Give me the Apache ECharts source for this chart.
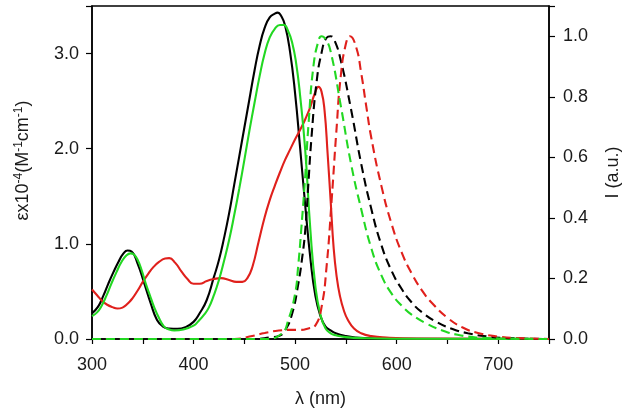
<!DOCTYPE html>
<html>
<head>
<meta charset="utf-8">
<script src="https://cdn.jsdelivr.net/npm/echarts@6/dist/echarts.min.js"></script>
<style>html,body{margin:0;padding:0;background:#fff;}#c{width:630px;height:415px;}</style>
</head>
<body>
<div id="c"></div>
<script>
// ---- Absorption (left axis, εx10^-4) ----
var blackAbsX = [300,306,311,316,321,326,331,335,339,345,351,358,364,370,376,384,392,400,406,413,420,425,430,435,440,445,450,455,460,465,470,475,480,483,486,490,495,500,505,510,515,520,525,530,535,540,550,560,580,600,750];
var blackAbsY = [0.27,0.34,0.45,0.58,0.70,0.81,0.90,0.93,0.92,0.79,0.60,0.37,0.20,0.13,0.11,0.107,0.125,0.18,0.27,0.41,0.65,0.83,1.06,1.32,1.62,1.92,2.22,2.52,2.82,3.08,3.27,3.38,3.42,3.43,3.40,3.30,3.02,2.58,2.00,1.40,0.85,0.45,0.24,0.13,0.09,0.06,0.03,0.015,0.005,0.002,0];

var greenAbsX = [300,305,309,314,319,324,329,334,338,341,345,349,353,357,361,366,371,376,381,390,400,405,410,415,420,425,430,435,440,445,450,455,460,465,470,475,480,485,489,493,497,501,505,510,515,520,525,530,535,540,550,570,600,750];
var greenAbsY = [0.24,0.28,0.34,0.45,0.58,0.70,0.81,0.88,0.90,0.89,0.83,0.72,0.58,0.46,0.34,0.22,0.13,0.10,0.09,0.10,0.14,0.19,0.25,0.33,0.46,0.62,0.82,1.04,1.30,1.58,1.88,2.19,2.48,2.76,3.00,3.17,3.26,3.30,3.30,3.24,3.12,2.90,2.55,1.98,1.15,0.55,0.25,0.11,0.06,0.04,0.02,0.008,0.003,0];

var redAbsX = [300,305,310,315,320,325,330,335,340,345,350,355,360,366,372,376,382,388,394,400,406,413,420,427,435,442,448,453,458,464,470,475,480,485,490,495,500,505,510,515,519,523,526,529,532,535,538,541,544,548,552,558,565,575,590,620,750];
var redAbsY = [0.52,0.46,0.40,0.36,0.335,0.32,0.33,0.37,0.43,0.51,0.60,0.68,0.75,0.81,0.845,0.85,0.80,0.71,0.63,0.58,0.58,0.61,0.63,0.64,0.62,0.60,0.60,0.64,0.76,1.02,1.28,1.46,1.61,1.75,1.88,1.99,2.10,2.20,2.31,2.44,2.57,2.65,2.60,2.40,1.95,1.45,0.95,0.65,0.46,0.30,0.20,0.11,0.06,0.03,0.015,0.005,0];

// ---- Emission (right axis, I a.u.) ----
var blackEmX = [300,460,475,484,490,497,503,507,510,513,516,521,526,531,535,539,545,555,565,575,585,595,605,615,625,640,655,670,690,710,750];
var blackEmY = [0,0,0.005,0.01,0.028,0.083,0.18,0.27,0.36,0.51,0.66,0.845,0.945,0.995,1.0,0.985,0.92,0.76,0.58,0.43,0.31,0.225,0.165,0.12,0.088,0.055,0.033,0.019,0.008,0.003,0];

var greenEmX = [300,470,487,493,500,503,506,510,513,518,523,526,530,535,545,555,565,575,585,595,605,615,630,645,660,680,700,750];
var greenEmY = [0,0,0.018,0.06,0.15,0.24,0.36,0.54,0.70,0.90,0.985,1.0,0.99,0.95,0.77,0.58,0.43,0.30,0.21,0.15,0.11,0.08,0.05,0.028,0.014,0.005,0.002,0];

var redEmX = [300,440,455,470,484,495,505,513,520,526,531,536,540.5,545,550,554,560,565,570,575,585,595,605,615,625,635,650,665,680,700,720,750];
var redEmY = [0,0,0.008,0.02,0.028,0.03,0.03,0.035,0.045,0.105,0.24,0.46,0.68,0.87,0.975,1.0,0.965,0.88,0.77,0.665,0.505,0.38,0.285,0.215,0.16,0.118,0.07,0.038,0.02,0.008,0.003,0];

// ---- Axis ranges / labels ----
var xMin = 300, xMax = 750, xStep = 50, xLabelEvery = 100;
var leftMax = 3.5, leftStep = 1;
var rightMax = 1.1, rightStep = 0.2;
var xName = 'λ (nm)';
var rightName = 'I (a.u.)';

function zip(xs, ys) { return xs.map(function (x, i) { return [x, ys[i]]; }); }

var BLACK = '#000000', GREEN = '#22d822', RED = '#e0201c';
var FONT = 'Liberation Sans, Arial, sans-serif';
var FS = 18;

function line(name, xs, ys, color, yIdx, dashed) {
  return {
    name: name, type: 'line', yAxisIndex: yIdx, data: zip(xs, ys),
    showSymbol: false, smooth: 0.5,
    lineStyle: { color: color, width: 2.1, type: dashed ? [9, 5] : 'solid' },
    z: dashed ? 3 : 2, animation: false
  };
}

var chart = echarts.init(document.getElementById('c'), null, { renderer: 'canvas' });
chart.setOption({
  animation: false,
  grid: { left: 92, right: 77, top: 6, bottom: 76, show: true, borderColor: '#000', borderWidth: 1.5, backgroundColor: 'transparent' },
  xAxis: {
    type: 'value', min: xMin, max: xMax, interval: xStep,
    name: xName, nameLocation: 'middle', nameGap: 51,
    nameTextStyle: { fontFamily: FONT, fontSize: FS, color: '#1a1a1a' },
    axisLine: { lineStyle: { color: '#000', width: 1.5 } },
    axisTick: { inside: false, length: 5, lineStyle: { color: '#000', width: 1.2 } },
    axisLabel: { margin: 17, fontFamily: FONT, fontSize: FS, color: '#1a1a1a',
      formatter: function (v) { return (v % xLabelEvery === 0 && v < xMax) ? String(v) : ''; } },
    splitLine: { show: false }
  },
  yAxis: [
    {
      type: 'value', min: 0, max: leftMax, interval: leftStep, position: 'left',
      name: '{a|εx10}{s|-4}{a|(M}{s|-1}{a|cm}{s|-1}{a|)}', nameLocation: 'middle', nameGap: 58, nameRotate: 90,
      nameTextStyle: { padding: [0, 0, 0, 24], rich: {
        a: { fontFamily: FONT, fontSize: FS, color: '#1a1a1a', lineHeight: 21 },
        s: { fontFamily: FONT, fontSize: 12, color: '#1a1a1a', lineHeight: 12, verticalAlign: 'top' } } },
      axisLine: { show: true, lineStyle: { color: '#000', width: 1.5 } },
      axisTick: { show: true, length: 6, lineStyle: { color: '#000', width: 1.2 } },
      axisLabel: { margin: 13, fontFamily: FONT, fontSize: FS, color: '#1a1a1a',
        formatter: function (v) { return (Math.abs(v / leftStep - Math.round(v / leftStep)) < 1e-6) ? v.toFixed(1) : ''; } },
      splitLine: { show: false }
    },
    {
      type: 'value', min: 0, max: rightMax, interval: rightStep, position: 'right',
      name: rightName, nameLocation: 'middle', nameGap: 55, nameRotate: 90,
      nameTextStyle: { fontFamily: FONT, fontSize: FS, color: '#1a1a1a' },
      axisLine: { show: true, lineStyle: { color: '#000', width: 1.5 } },
      axisTick: { show: true, length: 6, lineStyle: { color: '#000', width: 1.2 } },
      axisLabel: { margin: 14, fontFamily: FONT, fontSize: FS, color: '#1a1a1a',
        formatter: function (v) { return (Math.abs(v / rightStep - Math.round(v / rightStep)) < 1e-6) ? v.toFixed(1) : ''; } },
      splitLine: { show: false }
    }
  ],
  series: [
    line('black abs', blackAbsX, blackAbsY, BLACK, 0, false),
    line('red abs', redAbsX, redAbsY, RED, 0, false),
    line('green abs', greenAbsX, greenAbsY, GREEN, 0, false),
    line('black em', blackEmX, blackEmY, BLACK, 1, true),
    line('red em', redEmX, redEmY, RED, 1, true),
    line('green em', greenEmX, greenEmY, GREEN, 1, true)
  ]
});
</script>
</body>
</html>
